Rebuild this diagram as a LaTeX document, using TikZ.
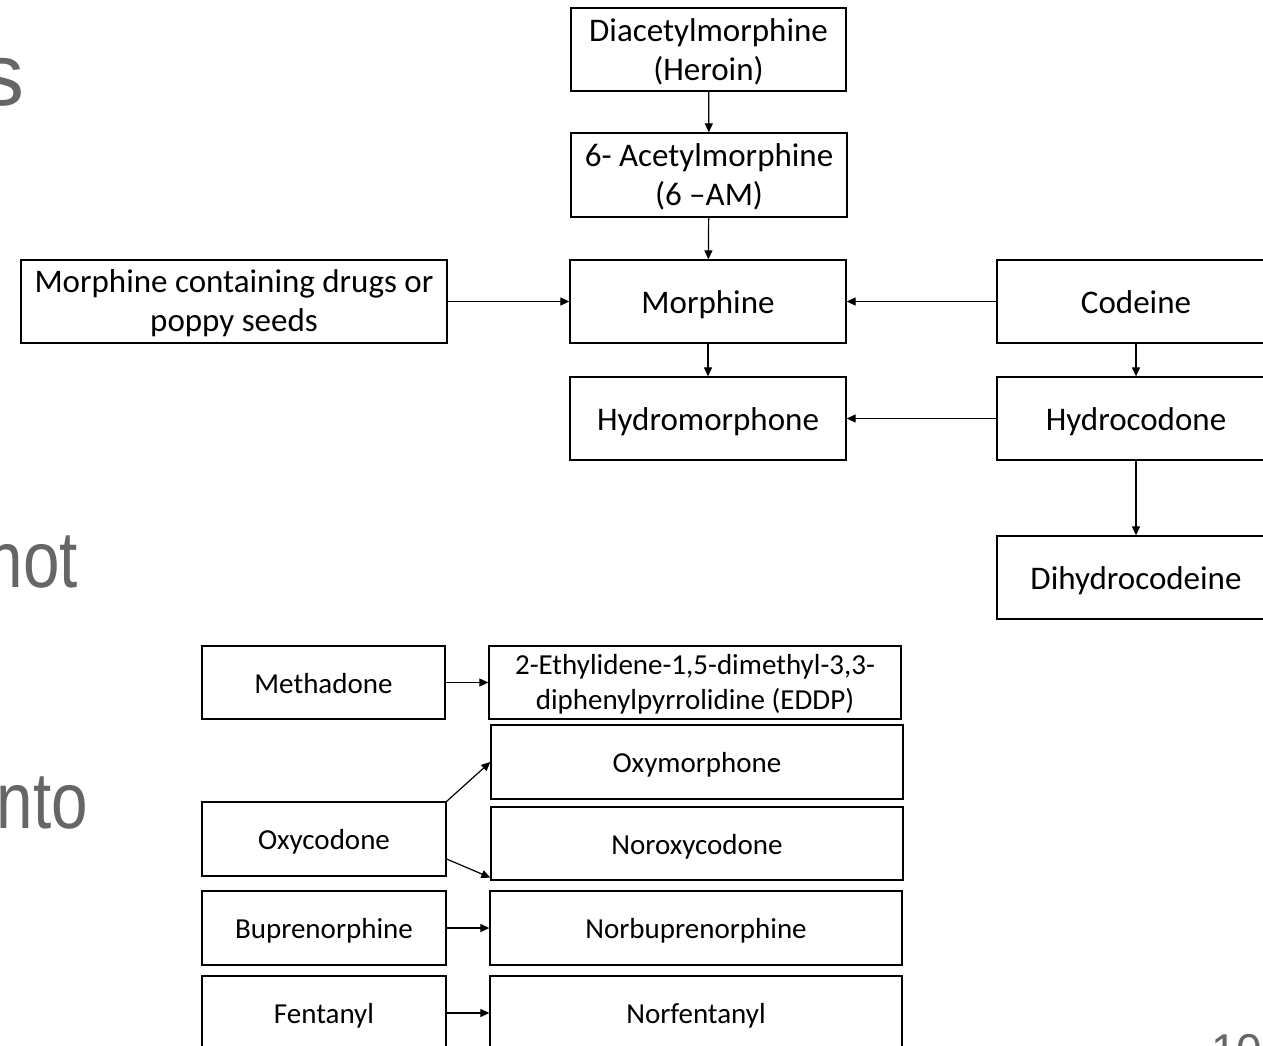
\documentclass[tikz,border=0pt]{standalone}
\usepackage{fontspec}
\setmainfont{Carlito}
\newfontfamily\slidefont{Liberation Sans}
\usetikzlibrary{arrows.meta}
\definecolor{slidegray}{HTML}{666666}
\tikzset{
  box/.style={draw=black, line width=1.3pt, inner sep=0pt, align=center, font=\fontsize{33}{39}\selectfont},
  sbox/.style={draw=black, line width=1.3pt, inner sep=0pt, align=center, font=\fontsize{29}{35}\selectfont},
  box1/.style={box, text height=31pt, text depth=8pt},
  sbox1/.style={sbox, text height=28pt, text depth=7pt},
  conn/.style={line width=1.2pt, -{Triangle[length=9pt,width=8pt]}},
  slidetxt/.style={text=slidegray, inner sep=0pt, font=\slidefont\fontsize{88}{100}\selectfont},
  bodytxt/.style={text=slidegray, inner sep=0pt, font=\slidefont\fontsize{80}{96}\selectfont}
}
\newcommand{\narrowtxt}[1]{\scalebox{0.82}[1]{#1}}
\begin{document}
\begin{tikzpicture}[x=1pt,y=-1pt]
\useasboundingbox (0,0) rectangle (1263,1045);
\clip (0,0) rectangle (1263,1045);
\fill[white] (0,0) rectangle (1263,1045);
% background slide text
\node[slidetxt, anchor=base east] (t1) at (25,105) {s};
\node[bodytxt, anchor=base east] (t2) at (78,587) {\narrowtxt{not}};
\node[bodytxt, anchor=base east] (t3) at (88,828) {\narrowtxt{nto}};
\node[text=slidegray, inner sep=0pt, anchor=base west, font=\slidefont\fontsize{46}{50}\selectfont] (pg) at (1211,1066) {10};
% upper diagram
\node[box, minimum width=275, minimum height=83] (heroin) at (708.5,49.5) {\strut Diacetylmorphine\\(Heroin)};
\node[box, minimum width=276, minimum height=84] (am) at (709,175) {\strut 6- Acetylmorphine\\(6 --AM)};
\node[box, minimum width=426, minimum height=83] (mcd) at (234,301.5) {\strut Morphine containing drugs or\\poppy seeds};
\node[box1, minimum width=276, minimum height=83] (morph) at (708,301.5) {Morphine};
\node[box1, minimum width=278, minimum height=83] (codeine) at (1136,301.5) {Codeine};
\node[box1, minimum width=276, minimum height=83] (hmorph) at (708,418.5) {Hydromorphone};
\node[box1, minimum width=278, minimum height=83] (hcod) at (1136,418.5) {Hydrocodone};
\node[box1, minimum width=278, minimum height=83] (dhc) at (1136,577.5) {Dihydrocodeine};
\draw[conn] (heroin) -- (am);
\draw[conn] (am) -- (morph);
\draw[conn] (mcd) -- (morph);
\draw[conn] (codeine) -- (morph);
\draw[conn] (morph) -- (hmorph);
\draw[conn] (hcod) -- (hmorph);
\draw[conn] (codeine) -- (hcod);
\draw[conn] (hcod) -- (dhc);
% lower diagram
\node[sbox1, minimum width=243, minimum height=73] (meth) at (323.5,682.5) {Methadone};
\node[sbox, minimum width=412, minimum height=73] (eddp) at (695,682.5) {\strut 2-Ethylidene-1,5-dimethyl-3,3-\\diphenylpyrrolidine (EDDP)};
\node[sbox1, minimum width=412, minimum height=74] (oxym) at (697,762) {Oxymorphone};
\node[sbox1, minimum width=412, minimum height=73] (norox) at (697,843.5) {Noroxycodone};
\node[sbox1, minimum width=244, minimum height=74] (oxyc) at (324,839) {Oxycodone};
\node[sbox1, minimum width=244, minimum height=74] (bup) at (324,928) {Buprenorphine};
\node[sbox1, minimum width=412, minimum height=74] (norbup) at (696,928) {Norbuprenorphine};
\node[sbox1, minimum width=244, minimum height=74] (fent) at (324,1013) {Fentanyl};
\node[sbox1, minimum width=412, minimum height=74] (norfent) at (696,1013) {Norfentanyl};
\draw[conn] (meth) -- (eddp);
\draw[conn] (oxyc.north east) -- (oxym.west);
\draw[conn] ([yshift=-20pt]oxyc.east) -- ([yshift=3pt]norox.south west);
\draw[conn] (bup) -- (norbup);
\draw[conn] (fent) -- (norfent);
\end{tikzpicture}
\end{document}
